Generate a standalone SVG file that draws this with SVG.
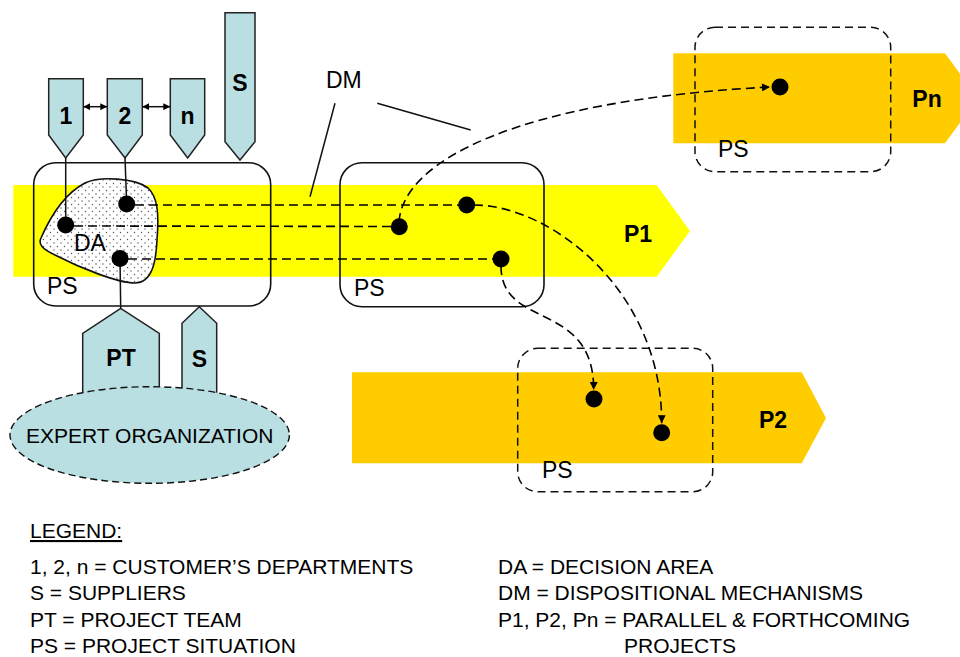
<svg xmlns="http://www.w3.org/2000/svg" width="960" height="657" viewBox="0 0 960 657">
  <style>
    text { font-family: "Liberation Sans", Arial, sans-serif; fill: #000; }
    .lbl { font-size: 23px; }
    .bold { font-size: 23px; font-weight: bold; }
    .leg { font-size: 21px; }
    .dept { fill: #B9DFE2; stroke: #222; stroke-width: 1.5; }
    .box { fill: none; stroke: #111; stroke-width: 1.6; }
    .dbox { fill: none; stroke: #111; stroke-width: 1.5; stroke-dasharray: 8 5; }
    .dash { fill: none; stroke: #000; stroke-width: 1.6; stroke-dasharray: 9 5; }
    .solid { fill: none; stroke: #111; stroke-width: 1.5; }
    .dot { fill: #000; }
  </style>
  <defs>
    <pattern id="dots" width="7" height="7" patternUnits="userSpaceOnUse">
      <rect width="7" height="7" fill="#fff"/>
      <circle cx="1.5" cy="1.5" r="0.7" fill="#555"/>
      <circle cx="5" cy="5" r="0.7" fill="#555"/>
    </pattern>
    <marker id="arrow" viewBox="0 0 10 10" refX="10" refY="5" markerWidth="10" markerHeight="8" markerUnits="userSpaceOnUse" orient="auto">
      <path d="M0,0 L10,5 L0,10 Z" fill="#000"/>
    </marker>
    <marker id="small" viewBox="0 0 10 10" refX="10" refY="5" markerWidth="7" markerHeight="7" markerUnits="userSpaceOnUse" orient="auto-start-reverse">
      <path d="M0,0 L10,5 L0,10 Z" fill="#000"/>
    </marker>
  </defs>

  <rect width="960" height="657" fill="#fff"/>

  <!-- project bands -->
  <g id="project-p1">
    <polygon points="13.3,185 656.7,185 690,231 656.7,276.7 13.3,276.7" fill="#FFFF00"/>
    <text class="bold" x="638" y="242" text-anchor="middle">P1</text>
  </g>
  <g id="project-pn">
    <polygon points="673.3,53.3 945,53.3 978,98.3 945,143.3 673.3,143.3" fill="#FFCC00"/>
    <text class="bold" x="927" y="107" text-anchor="middle">Pn</text>
  </g>
  <g id="project-p2">
    <polygon points="352,372.3 801.7,372.3 826,418 801.7,463.3 352,463.3" fill="#FFCC00"/>
    <text class="bold" x="773" y="428" text-anchor="middle">P2</text>
  </g>

  <!-- customer's departments -->
  <g id="dept-1">
    <polygon class="dept" points="48.7,78.7 83.3,78.7 83.3,135 65.7,158 48.7,135"/>
    <text class="bold" x="66" y="124" text-anchor="middle">1</text>
  </g>
  <g id="dept-2">
    <polygon class="dept" points="107.3,78.7 142.3,78.7 142.3,135 125,158 107.3,135"/>
    <text class="bold" x="125" y="124" text-anchor="middle">2</text>
  </g>
  <g id="dept-n">
    <polygon class="dept" points="170.3,78.7 204.7,78.7 204.7,135 187.7,158 170.3,135"/>
    <text class="bold" x="187.5" y="124" text-anchor="middle">n</text>
  </g>
  <g id="supplier-top">
    <polygon class="dept" points="225,12.7 255,12.7 255,141.7 240,160 225,141.7"/>
    <text class="bold" x="240" y="91" text-anchor="middle">S</text>
  </g>

  <!-- project team and suppliers below -->
  <g id="project-team">
    <polygon class="dept" points="82.7,400 82.7,333.3 120.7,308.3 159.3,333.3 159.3,400"/>
    <text class="bold" x="121" y="366" text-anchor="middle">PT</text>
  </g>
  <g id="supplier-bottom">
    <polygon class="dept" points="182,400 182,323.3 199.3,306.7 216.7,323.3 216.7,400"/>
    <text class="bold" x="199.5" y="367" text-anchor="middle">S</text>
  </g>
  <g id="expert-organization">
    <ellipse cx="149.7" cy="435" rx="139.7" ry="48.3" fill="#B9DFE2" stroke="#111" stroke-width="1.4" stroke-dasharray="7 4"/>
    <text x="149.7" y="443" text-anchor="middle" style="font-size:21px">EXPERT ORGANIZATION</text>
  </g>

  <!-- project situations -->
  <g id="ps-main">
    <rect class="box" x="33.7" y="162.7" width="237" height="143.3" rx="22"/>
    <text class="lbl" x="47" y="294">PS</text>
  </g>
  <g id="decision-area">
    <path d="M 41,238 C 48,222 62,195 85,183 C 100,176 135,178 148,188 C 158,197 159,215 157,240 C 156,262 152,283 135,283 C 118,283 80,268 55,255 C 42,249 38,244 41,238 Z" fill="url(#dots)" stroke="#111" stroke-width="1.6"/>
    <text class="lbl" x="74" y="251">DA</text>
  </g>
  <g id="ps-p1">
    <rect class="box" x="340" y="162.7" width="204" height="144" rx="22"/>
    <text class="lbl" x="354" y="296">PS</text>
  </g>
  <g id="ps-pn">
    <rect class="dbox" x="695" y="27.3" width="195.7" height="144.4" rx="20"/>
    <text class="lbl" x="718" y="157">PS</text>
  </g>
  <g id="ps-p2">
    <rect class="dbox" x="517.7" y="348.3" width="195" height="143.4" rx="20"/>
    <text class="lbl" x="542" y="478">PS</text>
  </g>

  <!-- dispositional mechanisms label -->
  <g id="dm-label">
    <text class="lbl" x="326" y="88">DM</text>
  </g>

  <!-- connectors -->
  <g id="connectors">
    <line class="solid" x1="83.3" y1="106.7" x2="107.3" y2="106.7" marker-start="url(#small)" marker-end="url(#small)"/>
    <line class="solid" x1="142.3" y1="106.7" x2="170.3" y2="106.7" marker-start="url(#small)" marker-end="url(#small)"/>
    <line class="solid" x1="65.7" y1="158" x2="65.7" y2="225"/>
    <line class="solid" x1="125" y1="158" x2="126.7" y2="204"/>
    <line class="solid" x1="120" y1="258" x2="120.7" y2="308.3"/>
    <line class="solid" x1="335" y1="103.3" x2="310" y2="196.7"/>
    <line class="solid" x1="377.3" y1="103.3" x2="470.7" y2="130"/>

    <line class="dash" x1="135" y1="205" x2="466" y2="205"/>
    <line class="dash" x1="74" y1="226" x2="399" y2="226.5"/>
    <line class="dash" x1="128" y1="259" x2="501" y2="259"/>

    <path class="dash" d="M 399,222 C 403,160 520,100 770,87" marker-end="url(#arrow)"/>
    <path class="dash" d="M 474,205 C 550,205 662,290 661.7,423.3" marker-end="url(#arrow)"/>
    <path class="dash" d="M 501,266 C 501,330 594,300 593.7,390" marker-end="url(#arrow)"/>
  </g>

  <!-- decision points -->
  <g id="points">
    <circle class="dot" cx="65.7" cy="225" r="8.5"/>
    <circle class="dot" cx="126.7" cy="204" r="8.5"/>
    <circle class="dot" cx="120" cy="258.5" r="8.5"/>
    <circle class="dot" cx="466.7" cy="205" r="8.5"/>
    <circle class="dot" cx="399.3" cy="226.7" r="8.5"/>
    <circle class="dot" cx="501" cy="259" r="8.5"/>
    <circle class="dot" cx="780" cy="87" r="8.5"/>
    <circle class="dot" cx="594" cy="399" r="8.5"/>
    <circle class="dot" cx="661.7" cy="432.7" r="8.5"/>
  </g>

  <!-- legend -->
  <g id="legend">
    <text class="leg" x="30" y="538" text-decoration="underline">LEGEND:</text>
    <text class="leg" x="30" y="574">1, 2, n = CUSTOMER’S DEPARTMENTS</text>
    <text class="leg" x="30" y="600">S = SUPPLIERS</text>
    <text class="leg" x="30" y="627">PT = PROJECT TEAM</text>
    <text class="leg" x="30" y="653">PS = PROJECT SITUATION</text>
    <text class="leg" x="498" y="574">DA = DECISION AREA</text>
    <text class="leg" x="498" y="600">DM = DISPOSITIONAL MECHANISMS</text>
    <text class="leg" x="498" y="627">P1, P2, Pn = PARALLEL &amp; FORTHCOMING</text>
    <text class="leg" x="624" y="653">PROJECTS</text>
  </g>
</svg>
